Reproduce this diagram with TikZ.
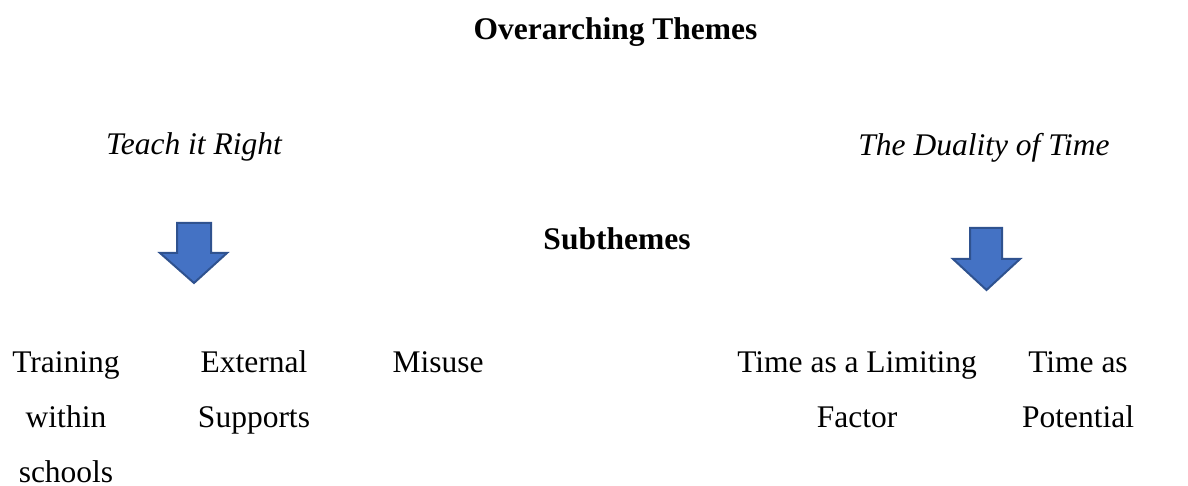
\documentclass[tikz,border=0pt]{standalone}
\usepackage{fontspec}
\setmainfont{Liberation Serif}
\definecolor{arrowfill}{HTML}{4472C4}
\definecolor{arrowline}{HTML}{2F528F}
\begin{document}
\begin{tikzpicture}[x=1pt,y=-1pt,
  every node/.style={inner sep=0pt,outer sep=0pt,font=\fontsize{31.5}{55}\selectfont},
  heading/.style={anchor=base,font=\fontsize{31.5}{55}\selectfont\bfseries},
  theme/.style={anchor=base,font=\fontsize{31.5}{55}\selectfont\itshape},
  subtheme/.style={anchor=base,align=center},
  downarrow/.style={fill=arrowfill,draw=arrowline,line width=2pt,line join=miter}]
\useasboundingbox (0,0) rectangle (1188,486);

% headings
\node[heading] (over) at (615.5,40) {Overarching Themes};
\node[heading] (sub) at (617,250) {Subthemes};

% overarching themes
\node[theme] (teach) at (194,155) {Teach it Right};
\node[theme] (duality) at (984,156) {The Duality of Time};

% block arrows
\draw[downarrow] (177,223) -- (211,223) -- (211,253) -- (227,253) -- (194,283)
  -- (160,253) -- (177,253) -- cycle;
\draw[downarrow] (970,228) -- (1002,228) -- (1002,259) -- (1020,259) -- (986.5,290)
  -- (953,259) -- (970,259) -- cycle;

% subthemes: each node is placed at the baseline of its last line (55pt leading)
\node[subtheme] (training) at (66,482) {Training\\within\\schools};
\node[subtheme] (external) at (254,427) {External\\Supports};
\node[subtheme] (misuse) at (438,372) {Misuse};
\node[subtheme] (limit) at (857,427) {Time as a Limiting\\Factor};
\node[subtheme] (potential) at (1078,427) {Time as\\Potential};
\end{tikzpicture}
\end{document}
